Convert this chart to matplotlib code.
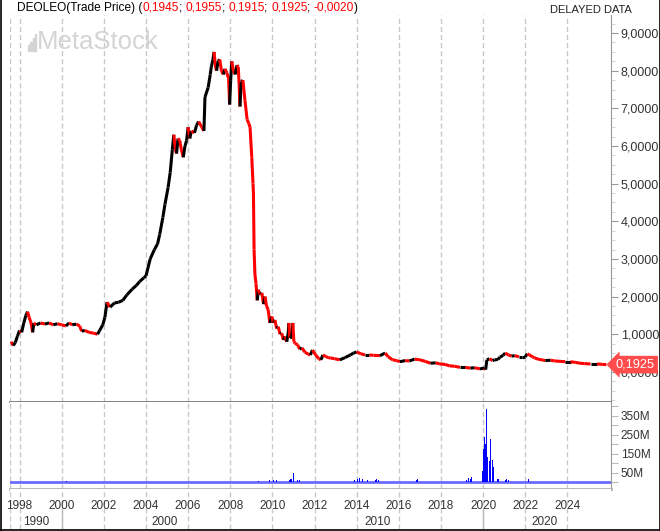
import matplotlib.pyplot as plt
from matplotlib.collections import LineCollection
from matplotlib.lines import Line2D
from matplotlib.patches import Rectangle
import matplotlib.transforms as mtransforms
import numpy as np

plt.rcParams['font.family'] = ['Liberation Sans', 'DejaVu Sans']

# price readings (year, close)
price_years = [
    1997.60, 1997.70, 1997.80, 1997.90, 1998.00, 1998.10, 1998.20, 1998.30, 1998.38, 1998.45,
    1998.55, 1998.62, 1998.68, 1998.80, 1999.00, 1999.20, 1999.40, 1999.60, 1999.80, 2000.00,
    2000.20, 2000.35, 2000.50, 2000.70, 2000.85, 2000.95, 2001.10, 2001.30, 2001.50, 2001.70,
    2001.80, 2001.95, 2002.05, 2002.15, 2002.30, 2002.50, 2002.70, 2002.90, 2003.10, 2003.35,
    2003.55, 2003.70, 2003.90, 2004.00, 2004.20, 2004.40, 2004.55, 2004.65, 2004.80, 2004.90,
    2005.05, 2005.15, 2005.25, 2005.32, 2005.40, 2005.45, 2005.52, 2005.60, 2005.68, 2005.77,
    2005.85, 2005.93, 2006.00, 2006.08, 2006.15, 2006.30, 2006.40, 2006.50, 2006.65, 2006.75,
    2006.80, 2006.95, 2007.05, 2007.10, 2007.18, 2007.23, 2007.30, 2007.35, 2007.42, 2007.50,
    2007.58, 2007.67, 2007.75, 2007.83, 2007.92, 2007.97, 2008.02, 2008.07, 2008.15, 2008.23,
    2008.32, 2008.38, 2008.42, 2008.46, 2008.52, 2008.60, 2008.70, 2008.80, 2008.88, 2008.94,
    2009.02, 2009.08, 2009.10, 2009.13, 2009.17, 2009.22, 2009.28, 2009.33, 2009.42, 2009.50,
    2009.58, 2009.65, 2009.72, 2009.80, 2009.88, 2009.97, 2010.05, 2010.12, 2010.20, 2010.28,
    2010.36, 2010.44, 2010.52, 2010.60, 2010.68, 2010.75, 2010.78, 2010.83, 2010.92, 2010.97,
    2011.02, 2011.07, 2011.20, 2011.30, 2011.40, 2011.55, 2011.70, 2011.80, 2011.90, 2012.05,
    2012.20, 2012.30, 2012.40, 2012.55, 2012.65, 2012.75, 2012.95, 2013.20, 2013.45, 2013.70,
    2013.85, 2014.00, 2014.20, 2014.40, 2014.60, 2014.80, 2015.10, 2015.35, 2015.50, 2015.70,
    2015.90, 2016.05, 2016.30, 2016.50, 2016.75, 2017.00, 2017.25, 2017.50, 2017.75, 2017.95,
    2018.20, 2018.40, 2018.65, 2018.90, 2019.15, 2019.40, 2019.60, 2019.85, 2020.05, 2020.12,
    2020.18, 2020.30, 2020.45, 2020.55, 2020.70, 2020.80, 2020.95, 2021.05, 2021.20, 2021.35,
    2021.50, 2021.70, 2021.85, 2022.00, 2022.10, 2022.20, 2022.35, 2022.45, 2022.65, 2022.80,
    2022.95, 2023.20, 2023.40, 2023.65, 2023.90, 2024.15, 2024.40, 2024.60, 2024.80, 2025.10,
    2025.40, 2025.65, 2025.85,
]
price_vals = [
    0.80, 0.70, 0.78, 0.95, 1.10, 1.05, 1.30, 1.50, 1.60, 1.45,
    1.30, 1.05, 1.30, 1.25, 1.30, 1.27, 1.30, 1.25, 1.28, 1.25,
    1.22, 1.30, 1.25, 1.27, 1.22, 1.08, 1.10, 1.05, 1.03, 1.00,
    1.10, 1.25, 1.45, 1.85, 1.72, 1.83, 1.85, 1.90, 2.05, 2.20,
    2.30, 2.40, 2.50, 2.55, 3.00, 3.25, 3.40, 3.65, 4.10, 4.45,
    4.90, 5.30, 5.90, 6.30, 5.90, 5.80, 6.20, 6.15, 5.90, 5.70,
    6.00, 6.15, 6.50, 6.20, 6.40, 6.35, 6.55, 6.65, 6.50, 6.40,
    7.30, 7.55, 7.90, 8.10, 8.30, 8.50, 8.10, 8.00, 8.25, 8.30,
    8.00, 7.90, 8.05, 7.95, 7.80, 7.10, 7.75, 8.25, 8.00, 7.90,
    8.15, 8.10, 7.65, 7.05, 7.70, 7.75, 7.20, 6.70, 6.60, 6.50,
    5.70, 5.00, 4.75, 3.25, 2.60, 2.35, 1.90, 2.18, 2.05, 2.10,
    1.80, 2.00, 1.75, 1.65, 1.30, 1.47, 1.30, 1.38, 1.15, 1.20,
    1.00, 1.03, 0.85, 0.94, 0.80, 1.03, 1.30, 0.90, 0.93, 1.30,
    0.80, 0.76, 0.72, 0.60, 0.64, 0.52, 0.47, 0.45, 0.58, 0.45,
    0.35, 0.32, 0.45, 0.40, 0.38, 0.37, 0.35, 0.32, 0.38, 0.45,
    0.50, 0.53, 0.48, 0.45, 0.45, 0.44, 0.43, 0.50, 0.40, 0.32,
    0.30, 0.27, 0.30, 0.29, 0.34, 0.32, 0.28, 0.23, 0.24, 0.21,
    0.20, 0.16, 0.15, 0.12, 0.12, 0.10, 0.11, 0.08, 0.10, 0.06,
    0.32, 0.35, 0.30, 0.32, 0.33, 0.39, 0.44, 0.50, 0.45, 0.42,
    0.43, 0.40, 0.40, 0.40, 0.48, 0.45, 0.40, 0.37, 0.33, 0.32,
    0.30, 0.31, 0.29, 0.28, 0.27, 0.27, 0.25, 0.23, 0.22, 0.21,
    0.21, 0.20, 0.1925,
]
last_price = "0,1925"

# volume readings (year, millions)
vol_years = [2000.24, 2005.85, 2006.90, 2009.35, 2009.55, 2009.85, 2010.05, 2010.20,
             2010.60, 2010.70, 2010.80, 2010.85, 2010.92, 2010.99, 2011.03, 2011.07, 2011.12,
             2011.20, 2011.30, 2011.40, 2011.50, 2011.60, 2011.78, 2012.30,
             2013.90, 2014.05, 2014.12, 2014.20, 2014.28, 2014.35, 2014.50, 2014.90, 2014.95,
             2015.05, 2016.85, 2016.90, 2017.00, 2017.25, 2019.20, 2019.30, 2019.40, 2019.46,
             2019.85, 2019.95, 2019.98, 2020.01, 2020.04, 2020.07, 2020.10, 2020.13, 2020.17,
             2020.20, 2020.24, 2020.28, 2020.31, 2020.34, 2020.38, 2020.42, 2020.45, 2020.48,
             2020.52, 2020.56, 2020.62, 2020.68, 2020.72, 2020.80, 2021.05, 2021.12, 2021.20,
             2022.14, 2022.18]
vol_vals = [8, 15, 8, 8, 10, 10, 14, 10,
            10, 12, 15, 18, 20, 49, 35, 28, 20,
            15, 14, 14, 12, 12, 10, 8,
            12, 20, 22, 25, 20, 18, 12, 15, 18,
            12, 15, 18, 14, 15, 12, 25, 18, 30,
            20, 35, 60, 174, 120, 240, 200, 300, 385,
            133, 90, 47, 110, 230, 180, 152, 120, 80,
            50, 37, 25, 20, 20, 12, 15, 20, 12,
            20, 25]

grid_years = list(range(1998, 2025, 2))
year_labels = [str(y) for y in grid_years]
decades = [1990, 2000, 2010, 2020]
decade_pos = [1998.8, 2004.9, 2015.0, 2022.9]

price_ticks = list(range(10))
vol_ticks = list(range(0, 401, 50))

W, H = 660, 531
def fx(px):
    return px / W
def fy(py):
    return 1 - py / H

x0, x1 = 1997.57, 2026.07
grid_col = '#c8c8c8'
dash = (0, (3.6, 2.2))

fig = plt.figure(figsize=(6.6, 5.31), dpi=100)

ax_p = fig.add_axes([fx(10.5), fy(402), fx(611) - fx(10.5), fy(15) - fy(402)])
ax_v = fig.add_axes([fx(10.5), fy(489), fx(611) - fx(10.5), fy(402) - fy(489)])
ax_l = fig.add_axes([fx(10.5), fy(529), fx(611) - fx(10.5), fy(489) - fy(529)])

for ax in (ax_p, ax_v, ax_l):
    ax.set_xlim(x0, x1)
    ax.vlines([x0] + grid_years, 0, 1, transform=ax.get_xaxis_transform(),
              colors=grid_col, linestyles=dash, lw=1, zorder=0)
    for s in ('left', 'top'):
        ax.spines[s].set_visible(False)
    ax.set_xticks([])

# price line, black when rising, red when falling
pts = np.column_stack([price_years, price_vals])
segs = np.stack([pts[:-1], pts[1:]], axis=1)
cols = ['black' if b >= a else '#ff0000' for a, b in zip(price_vals[:-1], price_vals[1:])]
ax_p.add_collection(LineCollection(segs, colors=cols, linewidths=2.2, zorder=3))
ax_p.set_ylim(-0.80, 9.48)
ax_p.yaxis.tick_right()
ax_p.set_yticks(price_ticks)
ax_p.set_yticklabels([f"{v},0000" for v in price_ticks])
ax_p.set_yticks(np.arange(-0.75, 9.5, 0.25), minor=True)
ax_p.tick_params(axis='y', which='major', length=5, color='#999999', labelcolor='#333333',
                 labelsize=9, pad=2)
ax_p.tick_params(axis='y', which='minor', length=3, color='#cccccc')
ax_p.spines['right'].set_color('#999999')
ax_p.spines['bottom'].set_color('#707070')
ax_p.spines['bottom'].set_linewidth(1.2)

shift = mtransforms.ScaledTranslation(5 / 100, 0, fig.dpi_scale_trans)
ax_p.text(1.0, 0.1925, last_price,
          transform=mtransforms.blended_transform_factory(ax_p.transAxes, ax_p.transData) + shift,
          ha='left', va='center', color='white', fontsize=9.2, clip_on=False, zorder=10,
          bbox=dict(boxstyle='larrow,pad=0.22', fc='#ff4d4d', ec='none'))

# volume
ax_v.axhline(2.5, color='#6b6bff', lw=2, zorder=2)
ax_v.bar(vol_years, vol_vals, width=0.03, color='#0000ff', zorder=3)
ax_v.set_ylim(-35, 423)
ax_v.yaxis.tick_right()
ax_v.set_yticks(vol_ticks)
ax_v.set_yticklabels([f"{v}M" if v % 100 == 50 else "" for v in vol_ticks])
ax_v.tick_params(axis='y', length=5, color='#bbbbbb', labelcolor='#333333', labelsize=8.5, pad=2)
ax_v.spines['right'].set_color('#999999')
ax_v.spines['bottom'].set_color('#b0b0b0')
ax_v.spines['bottom'].set_linewidth(2)

# date labels
ax_l.set_ylim(0, 1)
ax_l.set_yticks([])
for s in ('right', 'bottom'):
    ax_l.spines[s].set_visible(False)
for y, lab in zip(grid_years, year_labels):
    ax_l.text(y, 0.57, lab, ha='center', va='center', fontsize=8.5, color='#333333')
for d, p in zip(decades, decade_pos):
    ax_l.text(p, 0.17, str(d), ha='center', va='center', fontsize=8.5, color='#333333')
ax_l.vlines([2000, 2020], 0, 0.47, colors='#bbbbbb', lw=1)

# title in pieces
pieces = [("DEOLEO(Trade Price) (", 'black'), ("0,1945", 'red'), ("; ", 'black'),
          ("0,1955", 'red'), ("; ", 'black'), ("0,1915", 'red'), ("; ", 'black'),
          ("0,1925", 'red'), ("; ", 'black'), ("-0,0020", 'red'), (")", 'black')]
r = fig.canvas.get_renderer()
xpos = 17
for txt, c in pieces:
    t = fig.text(fx(xpos), fy(8), txt, color=c, fontsize=8.6, ha='left', va='center')
    xpos += t.get_window_extent(r).width
fig.text(fx(632), fy(10), "DELAYED DATA", ha='right', va='center', fontsize=8, color='#222222')

# watermark
fig.text(fx(37), fy(42), "MetaStock", ha='left', va='center', fontsize=18.5, color='#d4d4d4')
for i, h in enumerate([6, 9, 13, 17]):
    fig.add_artist(Rectangle((fx(28 + i * 2.3), fy(51)), fx(1.4), h / H,
                             transform=fig.transFigure, color='#d4d4d4'))

# frame
for xs, ys in [((0.5, 0.5), (0, 531)), ((659.5, 659.5), (0, 531)), ((0, 660), (529.5, 529.5))]:
    fig.add_artist(Line2D([fx(v) for v in xs], [fy(v) for v in ys], color='black', lw=1.2))

fig.savefig("out.png", dpi=100)
